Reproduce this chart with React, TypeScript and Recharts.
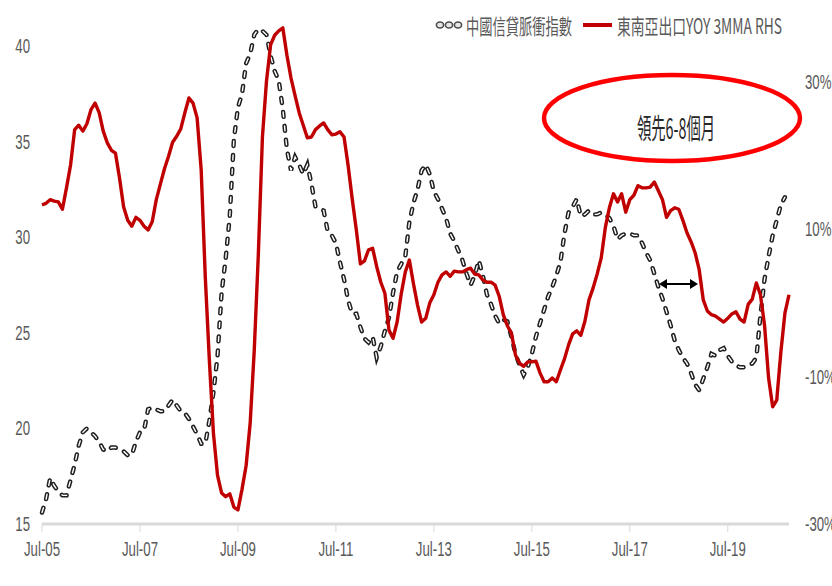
import React from 'react';
import { LineChart, Line, XAxis, YAxis } from 'recharts';

const MON = ['Jan', 'Feb', 'Mar', 'Apr', 'May', 'Jun', 'Jul', 'Aug', 'Sep', 'Oct', 'Nov', 'Dec'];

// monthly categories Jul-05 .. Oct-20
const months: string[] = Array.from({ length: 184 }, (_, i) => {
  const m = (6 + i) % 12;
  const y = 2005 + Math.floor((6 + i) / 12);
  return `${MON[m]}-${String(y % 100).padStart(2, '0')}`;
});

const xTicks = ['Jul-05', 'Jul-07', 'Jul-09', 'Jul-11', 'Jul-13', 'Jul-15', 'Jul-17', 'Jul-19'];
const leftTicks = [15, 20, 25, 30, 35, 40];
const rightTicks = [-30, -10, 10, 30];

// 中國信貸脈衝指數 (left axis)
const creditImpulse: (number | null)[] = [
  15.6, 16.3, 17.4, 17.0, 16.7, 16.5, 16.5, 17.3, 18.1, 19.1,
  19.8, 20.0, 19.8, 19.6, 19.3, 18.9, 18.8, 19.0, 19.0, 18.9,
  18.8, 18.6, 18.6, 19.3, 19.8, 19.9, 21.0, 21.1, 21.0, 20.9,
  20.9, 21.2, 21.5, 21.2, 20.9, 20.8, 20.5, 20.1, 19.7, 19.2,
  19.2, 20.4, 21.9, 23.8, 27.1, 28.9, 31.1, 35.1, 36.8, 37.5,
  39.1, 39.6, 40.6, 40.9, 40.8, 40.6, 39.5, 38.7, 38.2, 36.7,
  34.6, 33.5, 34.2, 33.8, 33.3, 33.8, 32.8, 31.6, 31.5, 31.4,
  30.3, 30.1, 29.7, 28.7, 27.8, 26.7, 26.0, 26.0, 25.3, 24.7,
  24.5, 24.8, 23.7, 24.3, 25.1, 25.8, 27.1, 28.2, 28.6, 29.0,
  30.8, 31.8, 32.5, 33.5, 33.8, 33.3, 32.4, 32.0, 31.5, 31.0,
  30.2, 29.8, 29.3, 28.8, 28.1, 27.5, 28.0, 28.8, 28.0, 27.0,
  26.5, 25.9, 25.5, 25.7, 25.6, 24.8, 23.9, 23.3, 22.8, 23.2,
  23.9, 24.8, 25.5, 26.2, 26.9, 27.4, 28.0, 28.7, 30.2, 31.3,
  31.6, 32.0, 31.1, 31.2, 31.4, 31.2, 31.2, 31.3, 31.2, 31.0,
  30.6, 29.9, 30.1, 30.2, 30.2, 30.1, 30.1, 29.7, 29.2, 28.8,
  28.1, 27.4, 26.8, 26.1, 25.4, 24.6, 24.1, 23.7, 23.4, 22.9,
  22.3, 22.0, 22.6, 23.2, 23.9, 23.8, 24.1, 24.2, 23.8, 23.5,
  23.3, 23.2, 23.2, 23.3, 23.4, 23.7, 25.9, 27.8, 29.0, 30.1,
  30.9, 31.7, 32.1, null,
];

// 東南亞出口YOY 3MMA, % (right axis)
const seaExports: number[] = [
  13.3, 13.5, 14.0, 13.8, 13.7, 12.7, 15.6, 18.7, 23.5, 24.1,
  23.3, 24.3, 26.2, 27.1, 25.8, 23.3, 21.7, 20.7, 20.3, 16.9,
  13.0, 11.2, 10.4, 11.6, 11.2, 10.4, 9.9, 11.0, 14.0, 16.1,
  18.2, 19.9, 21.8, 22.6, 23.6, 25.8, 27.8, 27.1, 25.1, 18.0,
  3.5, -7.8, -17.7, -23.4, -25.8, -26.3, -25.9, -27.7, -28.1, -25.3,
  -22.1, -16.3, -6.4, 6.6, 22.5, 30.1, 35.0, 36.3, 36.9, 37.3,
  33.6, 30.5, 28.1, 25.8, 24.1, 22.4, 22.5, 23.5, 24.0, 24.4,
  23.5, 22.8, 22.9, 23.2, 22.5, 18.6, 14.1, 9.9, 5.3, 5.7,
  7.2, 7.4, 4.9, 2.8, 1.3, -3.7, -4.8, -2.6, 1.2, 4.2,
  5.8, 2.6, -0.3, -2.6, -2.1, 0.0, 1.1, 2.8, 3.8, 4.2,
  3.6, 4.3, 4.2, 4.2, 4.5, 4.7, 3.9, 3.8, 3.1, 2.8,
  2.8, 2.4, 0.9, -1.6, -3.1, -4.1, -7.1, -8.2, -8.6, -8.0,
  -8.0, -7.9, -9.5, -10.7, -10.7, -10.2, -10.7, -9.1, -7.6, -5.7,
  -4.2, -3.8, -4.4, -2.5, 0.4, 2.0, 3.9, 6.1, 10.2, 12.9,
  14.8, 13.7, 14.8, 12.3, 14.0, 14.6, 15.9, 15.6, 15.6, 15.7,
  16.4, 15.2, 14.0, 11.6, 12.5, 12.9, 12.7, 11.2, 9.5, 8.3,
  6.8, 4.5, 0.4, -1.1, -1.6, -1.8, -2.2, -2.6, -2.1, -1.5,
  -1.2, -2.2, -2.6, -0.2, 0.5, 2.7, 1.1, -3.0, -10.2, -14.1,
  -13.2, -6.7, -1.4, 1.1,
];

const data = months.map((month, i) => ({
  month,
  credit: creditImpulse[i],
  exports: seaExports[i],
}));

const TICK_FONT = "'Liberation Sans', Arial, sans-serif";
const CJK_FONT = "'Noto Sans CJK TC', 'Noto Sans CJK SC', sans-serif";
const GREY = '#595959';

// the source picture is horizontally squeezed, so the labels are too
const SquashTick = (props: any) => {
  const { x, y, payload, textAnchor, axis } = props;
  const label = axis === 'right' ? `${payload.value}%` : String(payload.value);
  const dy = axis === 'x' ? 15 : 7;
  return (
    <g transform={`translate(${x},${y})`}>
      <text transform="scale(0.63,1)" textAnchor={textAnchor} y={dy} fill={GREY} fontSize={21} fontFamily={TICK_FONT}>
        {label}
      </text>
    </g>
  );
};

const Overlay = () => (
  <svg width={832} height={586} style={{ position: 'absolute', left: 0, top: 0, pointerEvents: 'none' }}>
    {/* legend */}
    {[440, 449, 458].map((cx) => (
      <ellipse key={cx} cx={cx} cy={25} rx={3.6} ry={3} fill="#e6e6e6" stroke="#4d4d4d" strokeWidth={1.6} />
    ))}
    <text x={466} y={25} dominantBaseline="central" fontSize={21} fill={GREY} fontFamily={CJK_FONT}
      textLength={106} lengthAdjust="spacingAndGlyphs">中國信貸脈衝指數</text>
    <line x1={583} y1={25} x2={612} y2={25} stroke="#C00000" strokeWidth={4} />
    <text x={617} y={25} dominantBaseline="central" fontSize={21} fill={GREY} fontFamily={CJK_FONT}
      textLength={165} lengthAdjust="spacingAndGlyphs">東南亞出口YOY 3MMA RHS</text>

    {/* annotation */}
    <ellipse cx={672} cy={118} rx={128} ry={43} fill="none" stroke="#FF0000" strokeWidth={4.5} />
    <text x={637} y={127} dominantBaseline="central" fontSize={28} fill="#262626" fontFamily={CJK_FONT}
      textLength={78} lengthAdjust="spacingAndGlyphs">領先6-8個月</text>
    <line x1={664} y1={284} x2={693} y2={284} stroke="#000" strokeWidth={2} />
    <polygon points="659,284 667,279 667,289" fill="#000" />
    <polygon points="698,284 690,279 690,289" fill="#000" />
  </svg>
);

const App: React.FC = () => (
  <div style={{ position: 'absolute', left: 0, top: 0, width: 832, height: 586, background: '#fff' }}>
    <LineChart width={832} height={586} data={data} margin={{ top: 8, right: 0, bottom: 0, left: 0 }}>
      <XAxis
        dataKey="month"
        ticks={xTicks}
        interval={0}
        height={62}
        tickSize={8}
        tickMargin={9}
        padding={{ left: 0, right: 0 }}
        axisLine={{ stroke: '#D9D9D9', strokeWidth: 3 }}
        tickLine={{ stroke: '#D9D9D9' }}
        tick={(p: any) => <SquashTick {...p} axis="x" />}
      />
      <YAxis
        yAxisId="left"
        domain={[15, 42]}
        ticks={leftTicks}
        allowDataOverflow
        width={42}
        axisLine={false}
        tickLine={false}
        tickSize={0}
        tickMargin={12}
        tick={(p: any) => <SquashTick {...p} axis="left" />}
      />
      <YAxis
        yAxisId="right"
        orientation="right"
        domain={[-30, 40]}
        ticks={rightTicks}
        allowDataOverflow
        width={43}
        axisLine={false}
        tickLine={false}
        tickSize={0}
        tickMargin={16}
        tick={(p: any) => <SquashTick {...p} axis="right" />}
      />
      <Line yAxisId="left" dataKey="credit" name="中國信貸脈衝指數" stroke="#1f1f1f" strokeWidth={4.4}
        strokeDasharray="5 9" strokeLinecap="round" dot={false} isAnimationActive={false} />
      <Line yAxisId="left" dataKey="credit" name="中國信貸脈衝指數 fill" stroke="#ffffff" strokeWidth={1.4}
        strokeDasharray="5 9" strokeLinecap="round" dot={false} isAnimationActive={false} legendType="none" />
      <Line yAxisId="right" dataKey="exports" name="東南亞出口YOY 3MMA RHS" stroke="#C00000" strokeWidth={3.4}
        strokeLinejoin="round" dot={false} isAnimationActive={false} />
    </LineChart>
    <Overlay />
  </div>
);

export default App;
